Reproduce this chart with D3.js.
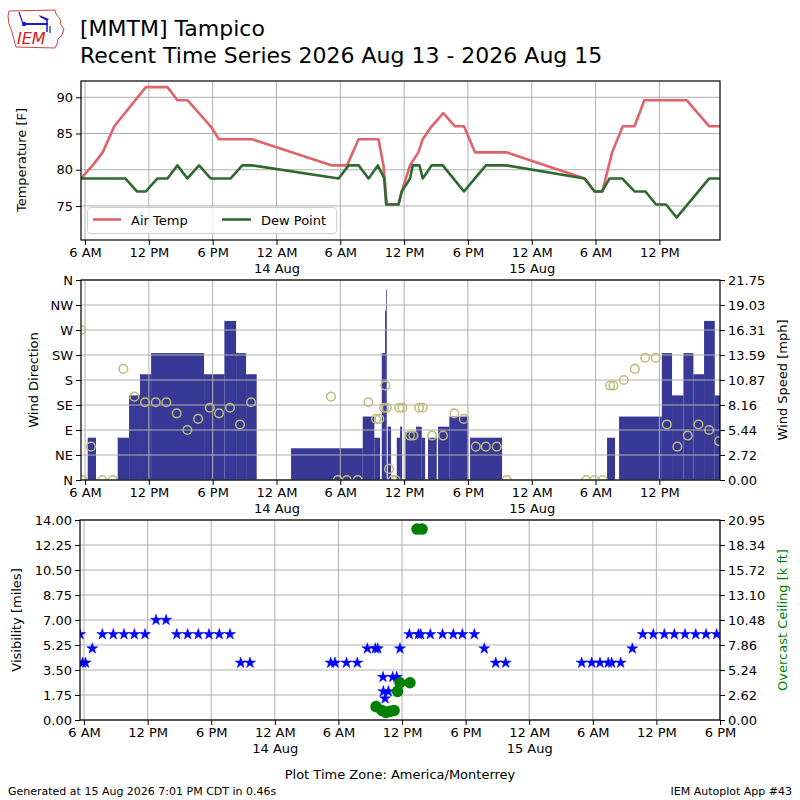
<!DOCTYPE html>
<html>
<head>
<meta charset="utf-8">
<script src="https://cdn.jsdelivr.net/npm/d3@7"></script>
<style>
body { margin: 0; background: #fff; }
text { font-family: "DejaVu Sans", sans-serif; }
</style>
</head>
<body>
<div id="plot"></div>
<script>
// hours since 2026-08-13 00:00 local (America/Monterrey)
var tempHours = [5.62, 6.72, 7.66, 8.75, 11.72, 13.75, 14.69, 15.63, 17.81, 18.59, 21.72, 29.22, 30.63, 31.72,
    33.59, 34.06, 34.38, 35.47, 35.78, 36.56, 37.34, 37.75, 38.59, 39.68, 40.78, 41.63, 42.66, 45.63,
    52.97, 53.91, 54.63, 55.56, 56.56, 57.66, 58.59, 62.56, 64.69, 65.7];
var tempValues = [78.8, 80.6, 82.4, 86.0, 91.4, 91.4, 89.6, 89.6, 86.0, 84.2, 84.2, 80.6, 80.6, 84.2,
    84.2, 80.6, 75.2, 75.2, 77.0, 80.6, 82.4, 84.2, 86.0, 87.8, 86.0, 86.0, 82.4, 82.4,
    78.8, 77.0, 77.0, 82.4, 86.0, 86.0, 89.6, 89.6, 86.0, 86.0];

var dewHours = [5.62, 9.78, 10.88, 11.72, 12.81, 13.75, 14.69, 15.63, 16.72, 17.81, 19.69, 20.78, 21.72,
    29.84, 30.78, 31.72, 32.66, 33.53, 34.13, 34.31, 35.47, 35.78, 36.56, 36.81, 37.44, 37.75, 38.59,
    39.63, 40.63, 41.63, 42.66, 43.69, 45.63, 52.97, 53.91, 54.63, 55.31, 56.5, 57.66, 58.69, 59.69,
    60.63, 61.62, 64.69, 65.7];
var dewValues = [78.8, 78.8, 77.0, 77.0, 78.8, 78.8, 80.6, 78.8, 80.6, 78.8, 78.8, 80.6, 80.6,
    78.8, 80.6, 80.6, 78.8, 80.6, 78.8, 75.2, 75.2, 77.0, 78.8, 80.6, 80.6, 78.8, 80.6,
    80.6, 78.8, 77.0, 78.8, 80.6, 80.6, 78.8, 77.0, 77.0, 78.8, 78.8, 77.0, 77.0, 75.2,
    75.2, 73.4, 78.8, 78.8];

var windBarStart = [6.25, 9.07, 10.14, 11.17, 12.21, 17.19, 19.1, 20.2, 21.14, 25.37, 32.11, 33.2, 33.9,
    34.21, 34.3, 34.46, 35.31, 35.62, 36.12, 37.12, 37.66, 38.25, 39.19, 40.25, 42.2, 55.08, 56.21,
    60.23, 61.19, 62.26, 63.2, 64.2, 65.21];
var windBarEnd = [7.03, 10.14, 11.17, 12.21, 17.19, 19.1, 20.2, 21.14, 22.14, 32.11, 33.2, 33.74, 34.21,
    34.3, 34.37, 34.77, 35.62, 35.81, 37.12, 37.66, 37.97, 39.07, 40.25, 42.04, 45.21, 55.83, 60.23,
    61.19, 62.26, 63.2, 64.2, 65.21, 65.7];
var windBarSpeed = [4.6, 4.6, 9.2, 11.5, 13.8, 11.5, 17.3, 13.8, 11.5, 3.45, 6.9, 4.6, 13.8,
    18.4, 20.7, 5.8, 4.6, 5.8, 5.2, 5.8, 4.6, 4.6, 5.8, 6.9, 4.6, 4.6, 6.9,
    13.8, 9.2, 13.8, 11.5, 17.3, 9.2];

var dirHours = [5.62, 5.75, 6.56, 7.63, 8.6, 9.6, 10.64, 11.64, 12.65, 13.64, 14.62, 15.62, 16.63, 17.73,
    18.6, 19.63, 20.57, 21.61, 29.13, 29.76, 30.61, 31.64, 32.64, 33.36, 33.67, 34.11, 34.24, 34.37,
    34.58, 34.93, 35.21, 35.55, 35.84, 36.56, 36.87, 37.41, 37.75, 38.63, 39.66, 40.72, 41.61, 42.74,
    43.68, 44.71, 45.65, 53.11, 53.89, 54.68, 55.37, 55.68, 56.65, 57.69, 58.66, 59.66, 60.7, 61.69,
    62.67, 63.67, 64.67, 65.61];
var dirValues = [270, 0, 60, 0, 0, 200, 150, 140, 140, 140, 120, 90, 110, 130,
    120, 130, 100, 140, 150, 0, 0, 0, 140, 110, 110, 130, 170, 130,
    20, 0, 0, 130, 130, 80, 80, 130, 130, 80, 80, 120, 110, 60,
    60, 60, 0, 0, 0, 0, 170, 170, 180, 200, 220, 220, 100, 60,
    80, 100, 90, 70];

var visHours = [5.62, 5.86, 6.14, 6.78, 7.73, 8.76, 9.77, 10.75, 11.75, 12.79, 13.74, 14.75, 15.78, 16.78,
    17.79, 18.76, 19.77, 20.78, 21.66, 29.27, 29.68, 30.76, 31.78, 32.73, 33.48, 33.71, 34.21, 34.24,
    34.4, 34.71, 35.12, 35.5, 35.81, 36.69, 37.54, 37.76, 38.67, 39.82, 40.84, 41.69, 42.82, 43.76,
    44.84, 45.78, 52.95, 53.9, 54.68, 55.46, 55.78, 56.63, 57.73, 58.71, 59.71, 60.75, 61.69, 62.7,
    63.71, 64.68, 65.69];
var visValues = [6, 4, 4, 5, 6, 6, 6, 6, 6, 7, 7, 6, 6, 6,
    6, 6, 6, 4, 4, 4, 4, 4, 4, 5, 5, 5, 3, 2,
    1.5, 2, 3, 3, 5, 6, 6, 6, 6, 6, 6, 6, 6, 5,
    4, 4, 4, 4, 4, 4, 4, 4, 5, 6, 6, 6, 6, 6,
    6, 6, 6];

var ceilHours = [33.55, 34.11, 34.49, 34.87, 35.25, 35.58, 35.81, 36.75, 37.42, 37.89];
var ceilValues = [1.4, 1.0, 0.8, 0.9, 1.0, 3.0, 3.9, 3.9, 20.0, 20.0];

var dirTicks = [0, 45, 90, 135, 180, 225, 270, 315, 360];
var dirTickLabels = ['N', 'NE', 'E', 'SE', 'S', 'SW', 'W', 'NW', 'N'];
var speedMax = 21.75;
var speedTickLabels = ['0.00', '2.72', '5.44', '8.16', '10.87', '13.59', '16.31', '19.03', '21.75'];
var visMax = 14;
var visTickLabels = ['0.00', '1.75', '3.50', '5.25', '7.00', '8.75', '10.50', '12.25', '14.00'];
var ceilMax = 20.95;
var ceilTickLabels = ['0.00', '2.62', '5.24', '7.86', '10.48', '13.10', '15.72', '18.34', '20.95'];
var tempTicks = [75, 80, 85, 90];

var base = new Date(2026, 7, 13, 0, 0, 0);
function t(h) { return new Date(base.getTime() + h * 3600 * 1000); }

var svg = d3.select('#plot')
    .append('svg')
    .attr('width', 800)
    .attr('height', 800);

var gridColor = '#b0b0b0';

var xTop = d3.scaleTime().domain([t(5.62), t(65.7)]).range([81, 720]);
var xBot = d3.scaleTime().domain([t(5.62), t(66)]).range([80, 720]);

function clip(id, x0, y0, x1, y1) {
    svg.append('clipPath').attr('id', id)
        .append('rect').attr('x', x0).attr('y', y0).attr('width', x1 - x0).attr('height', y1 - y0);
}

function xAxis(x, y0) {
    var ax = d3.axisBottom(x).ticks(d3.timeHour.every(6)).tickSize(5).tickPadding(3)
        .tickFormat(d3.timeFormat('%-I %p'));
    var g = svg.append('g').attr('transform', 'translate(0,' + y0 + ')').call(ax);
    g.select('.domain').remove();
    g.selectAll('.tick line').attr('stroke', '#000');
    g.selectAll('.tick text').attr('font-size', 13).attr('fill', '#000')
        .attr('font-family', '"DejaVu Sans", sans-serif')
        .each(function (d) {
            if (d.getHours() === 0) {
                d3.select(this).append('tspan').attr('x', 0).attr('dy', '1.25em')
                    .text(d3.timeFormat('%-d %b')(d));
            }
        });
}

function vGrid(x, y0, y1) {
    svg.append('g').selectAll('line').data(x.ticks(d3.timeHour.every(6))).join('line')
        .attr('x1', function (d) { return x(d); }).attr('x2', function (d) { return x(d); })
        .attr('y1', y0).attr('y2', y1)
        .attr('stroke', gridColor).attr('stroke-width', 1);
}

function hGrid(ys, x0, x1) {
    svg.append('g').selectAll('line').data(ys).join('line')
        .attr('x1', x0).attr('x2', x1)
        .attr('y1', function (d) { return d; }).attr('y2', function (d) { return d; })
        .attr('stroke', gridColor).attr('stroke-width', 1);
}

function frame(x0, y0, x1, y1) {
    svg.append('rect').attr('x', x0).attr('y', y0).attr('width', x1 - x0).attr('height', y1 - y0)
        .attr('fill', 'none').attr('stroke', '#000').attr('stroke-width', 1.2);
}

function yLabel(text, x, y, color) {
    svg.append('text').attr('transform', 'translate(' + x + ',' + y + ') rotate(-90)')
        .attr('text-anchor', 'middle').attr('font-size', 13).attr('fill', color || '#000').text(text);
}

// ---------- title + logo ----------
var logo = svg.append('g');
logo.append('path')
    .attr('d', 'M9,11 L55,10 L56,14 L60,19 L61,25 L64,29 L62,35 L58,39 L57,44 L55,48 L16,47 L14,40 L12,32 L9,24 L8,16 Z')
    .attr('fill', 'none').attr('stroke', '#d84040').attr('stroke-width', 1);
logo.append('line').attr('x1', 23).attr('y1', 24).attr('x2', 48).attr('y2', 24)
    .attr('stroke', '#1a1acc').attr('stroke-width', 2);
logo.append('line').attr('x1', 19).attr('y1', 12).attr('x2', 23).attr('y2', 24)
    .attr('stroke', '#1a1acc').attr('stroke-width', 1.2);
logo.append('circle').attr('cx', 24).attr('cy', 24).attr('r', 2.2).attr('fill', '#1a1acc');
logo.append('path').attr('d', 'M39,15 L49,19 L47,21 L40,17 Z').attr('fill', '#1a1acc');
logo.append('line').attr('x1', 47).attr('y1', 19).attr('x2', 47).attr('y2', 32)
    .attr('stroke', '#1a1acc').attr('stroke-width', 1.5);
logo.append('line').attr('x1', 50).attr('y1', 26).attr('x2', 50).attr('y2', 33)
    .attr('stroke', '#1a1acc').attr('stroke-width', 1.2);
logo.append('text').attr('x', 17).attr('y', 44).attr('font-family', '"Liberation Serif", serif')
    .attr('font-style', 'italic').attr('font-size', 16).attr('fill', '#d02020').text('IEM');

svg.append('text').attr('x', 80).attr('y', 36).attr('font-size', 22).text('[MMTM] Tampico');
svg.append('text').attr('x', 80).attr('y', 63).attr('font-size', 22)
    .text('Recent Time Series 2026 Aug 13 - 2026 Aug 15');

// ---------- panel 1: temperature ----------
var yTemp = d3.scaleLinear().domain([70.3, 92.25]).range([240, 81]);
clip('c1', 81, 81, 720, 240);
vGrid(xTop, 81, 240);
hGrid(tempTicks.map(yTemp), 81, 720);

var line = d3.line()
    .x(function (d) { return xTop(t(d[0])); })
    .y(function (d) { return yTemp(d[1]); });

svg.append('path')
    .attr('d', line(d3.zip(tempHours, tempValues)))
    .attr('clip-path', 'url(#c1)')
    .attr('stroke', '#e0626a').attr('stroke-width', 2.6)
    .attr('stroke-linejoin', 'round')
    .attr('fill', 'none');
svg.append('path')
    .attr('d', line(d3.zip(dewHours, dewValues)))
    .attr('clip-path', 'url(#c1)')
    .attr('stroke', '#2f6930').attr('stroke-width', 2.6)
    .attr('stroke-linejoin', 'round')
    .attr('fill', 'none');

var gy1 = svg.append('g').attr('transform', 'translate(81,0)')
    .call(d3.axisLeft(yTemp).tickValues(tempTicks).tickSize(5).tickPadding(3));
gy1.select('.domain').remove();
gy1.selectAll('text').attr('font-size', 13).attr('font-family', '"DejaVu Sans", sans-serif');
frame(81, 81, 720, 240);
xAxis(xTop, 240);
yLabel('Temperature [F]', 26, 160);

// legend
var lg = svg.append('g');
lg.append('rect').attr('x', 87.5).attr('y', 207.5).attr('width', 249).attr('height', 26).attr('rx', 3)
    .attr('fill', '#fff').attr('fill-opacity', 0.8).attr('stroke', '#d0d0d0');
lg.append('line').attr('x1', 93).attr('x2', 121).attr('y1', 219.5).attr('y2', 219.5)
    .attr('stroke', '#e0626a').attr('stroke-width', 2.6);
lg.append('text').attr('x', 131).attr('y', 224.5).attr('font-size', 13).text('Air Temp');
lg.append('line').attr('x1', 222).attr('x2', 251).attr('y1', 219.5).attr('y2', 219.5)
    .attr('stroke', '#2f6930').attr('stroke-width', 2.6);
lg.append('text').attr('x', 261).attr('y', 224.5).attr('font-size', 13).text('Dew Point');

// ---------- panel 2: wind ----------
var yDir = d3.scaleLinear().domain([0, 360]).range([480, 280]);
var ySpd = d3.scaleLinear().domain([0, speedMax]).range([480, 280]);
clip('c2', 81, 280, 720, 480);

svg.append('g').attr('clip-path', 'url(#c2)')
    .selectAll('rect').data(d3.range(windBarSpeed.length)).join('rect')
    .attr('x', function (i) { return xTop(t(windBarStart[i])); })
    .attr('width', function (i) { return Math.max(0.7, xTop(t(windBarEnd[i])) - xTop(t(windBarStart[i]))); })
    .attr('y', function (i) { return ySpd(windBarSpeed[i]); })
    .attr('height', function (i) { return 480 - ySpd(windBarSpeed[i]); })
    .attr('fill', '#383896');

vGrid(xTop, 280, 480);
hGrid(dirTicks.map(yDir), 81, 720);

svg.append('g').attr('clip-path', 'url(#c2)')
    .selectAll('circle').data(d3.zip(dirHours, dirValues)).join('circle')
    .attr('cx', function (d) { return xTop(t(d[0])); })
    .attr('cy', function (d) { return yDir(d[1]); })
    .attr('r', 4.3)
    .attr('fill', 'none').attr('stroke', '#bcbc7c').attr('stroke-width', 1.5);

var gy2 = svg.append('g').attr('transform', 'translate(81,0)')
    .call(d3.axisLeft(yDir).tickValues(dirTicks).tickSize(5).tickPadding(3)
        .tickFormat(function (d, i) { return dirTickLabels[i]; }));
gy2.select('.domain').remove();
gy2.selectAll('text').attr('font-size', 13).attr('font-family', '"DejaVu Sans", sans-serif');

var gy2r = svg.append('g').attr('transform', 'translate(720,0)')
    .call(d3.axisRight(ySpd).tickValues(d3.range(9).map(function (i) { return i * speedMax / 8; }))
        .tickSize(5).tickPadding(3)
        .tickFormat(function (d, i) { return speedTickLabels[i]; }));
gy2r.select('.domain').remove();
gy2r.selectAll('text').attr('font-size', 13).attr('font-family', '"DejaVu Sans", sans-serif');
frame(81, 280, 720, 480);
xAxis(xTop, 480);
yLabel('Wind Direction', 38, 380);
yLabel('Wind Speed [mph]', 787, 380);

// ---------- panel 3: visibility + ceiling ----------
var yVis = d3.scaleLinear().domain([0, visMax]).range([720, 520]);
var yCeil = d3.scaleLinear().domain([0, ceilMax]).range([720, 520]);
clip('c3', 80, 520, 720, 720);
vGrid(xBot, 520, 720);
hGrid(d3.range(9).map(function (i) { return yVis(i * visMax / 8); }), 80, 720);

var star = d3.symbol().type(d3.symbolStar).size(38);
svg.append('g').attr('clip-path', 'url(#c3)')
    .selectAll('path').data(d3.zip(visHours, visValues)).join('path')
    .attr('d', star)
    .attr('transform', function (d) { return 'translate(' + xBot(t(d[0])) + ',' + yVis(d[1]) + ')'; })
    .attr('fill', '#0000ff').attr('stroke', '#0000ff').attr('stroke-width', 0.5);

svg.append('g').attr('clip-path', 'url(#c3)')
    .selectAll('circle').data(d3.zip(ceilHours, ceilValues)).join('circle')
    .attr('cx', function (d) { return xBot(t(d[0])); })
    .attr('cy', function (d) { return yCeil(d[1]); })
    .attr('r', 5.8)
    .attr('fill', '#008000');

var gy3 = svg.append('g').attr('transform', 'translate(80,0)')
    .call(d3.axisLeft(yVis).tickValues(d3.range(9).map(function (i) { return i * visMax / 8; }))
        .tickSize(5).tickPadding(3)
        .tickFormat(function (d, i) { return visTickLabels[i]; }));
gy3.select('.domain').remove();
gy3.selectAll('text').attr('font-size', 13).attr('font-family', '"DejaVu Sans", sans-serif');

var gy3r = svg.append('g').attr('transform', 'translate(720,0)')
    .call(d3.axisRight(yCeil).tickValues(d3.range(9).map(function (i) { return i * ceilMax / 8; }))
        .tickSize(5).tickPadding(3)
        .tickFormat(function (d, i) { return ceilTickLabels[i]; }));
gy3r.select('.domain').remove();
gy3r.selectAll('text').attr('font-size', 13).attr('font-family', '"DejaVu Sans", sans-serif');
frame(80, 520, 720, 720);
xAxis(xBot, 720);
yLabel('Visibility [miles]', 21, 620);
yLabel('Overcast Ceiling [k ft]', 787, 620, '#008000');

// ---------- footer ----------
svg.append('text').attr('x', 400).attr('y', 779).attr('text-anchor', 'middle').attr('font-size', 13)
    .text('Plot Time Zone: America/Monterrey');
svg.append('text').attr('x', 8).attr('y', 795).attr('font-size', 11)
    .text('Generated at 15 Aug 2026 7:01 PM CDT in 0.46s');
svg.append('text').attr('x', 792).attr('y', 795).attr('text-anchor', 'end').attr('font-size', 11)
    .text('IEM Autoplot App #43');
</script>
</body>
</html>
